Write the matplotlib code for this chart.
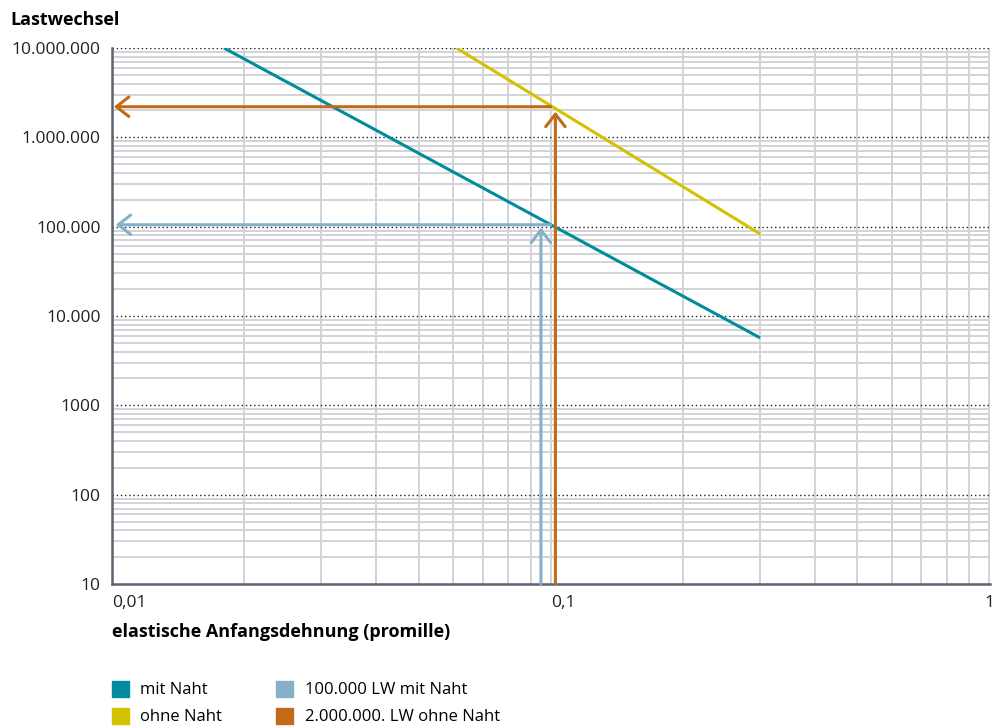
import matplotlib.pyplot as plt
from matplotlib.patches import Patch
from matplotlib.ticker import FixedLocator, LogLocator, NullFormatter

plt.rcParams["font.family"] = ["Open Sans", "DejaVu Sans"]

# S-N lines (strain in promille, load cycles)
mit_x = [0.018, 0.30]
mit_y = [10_000_000, 5_700]
ohne_x = [0.061, 0.30]
ohne_y = [10_000_000, 83_000]

# reading arrows
blau_x = 0.095
blau_y = 105_000
orange_x = 0.1025
orange_y = 2_200_000

y_ticks = [10, 100, 1000, 10_000, 100_000, 1_000_000, 10_000_000]
y_labels = ["10", "100", "1000", "10.000", "100.000", "1.000.000", "10.000.000"]
x_ticks = [0.01, 0.1, 1]
x_labels = ["0,01", "0,1", "1"]

c_mit = "#008c9e"
c_ohne = "#d4c100"
c_blau = "#85b0c8"
c_orange = "#c26a17"
c_grid = "#d3d3d7"
c_axis = "#5b6470"

fig = plt.figure(figsize=(9.97, 7.27), dpi=100)
ax = fig.add_axes([0.1123, 0.1967, 0.8807, 0.7373])
ax.set_xscale("log")
ax.set_yscale("log")
ax.set_xlim(0.01, 1.003)
ax.set_ylim(10, 10_000_000)

ax.xaxis.set_minor_locator(LogLocator(base=10, subs=range(2, 10)))
ax.yaxis.set_minor_locator(LogLocator(base=10, subs=range(2, 10)))
ax.xaxis.set_minor_formatter(NullFormatter())
ax.yaxis.set_minor_formatter(NullFormatter())
ax.xaxis.set_major_locator(FixedLocator(x_ticks))
ax.yaxis.set_major_locator(FixedLocator(y_ticks))
ax.set_xticklabels(x_labels)
ax.set_yticklabels(y_labels)

ax.grid(which="minor", color=c_grid, linewidth=1.4)
ax.grid(which="major", axis="x", color=c_grid, linewidth=1.4)
ax.grid(which="major", axis="y", color="#222222", linestyle=(0, (1, 2)), linewidth=1)
ax.set_axisbelow(True)

ax.tick_params(which="both", length=0, labelsize=12.5, colors="#222222", pad=8)
ax.tick_params(axis="x", pad=8)
for lbl, ha in zip(ax.get_xticklabels(), ["left", "left", "center"]):
    lbl.set_ha(ha)

for s in ["top", "right"]:
    ax.spines[s].set_visible(False)
for s in ["left", "bottom"]:
    ax.spines[s].set_color(c_axis)
    ax.spines[s].set_linewidth(1.8)

ax.plot(mit_x, mit_y, color=c_mit, linewidth=2.2, solid_capstyle="butt")
ax.plot(ohne_x, ohne_y, color=c_ohne, linewidth=2.2, solid_capstyle="butt")

arrow = dict(arrowstyle="->,head_length=0.9,head_width=0.7", linewidth=2.2, shrinkA=0, shrinkB=0)
ax.annotate("", xy=(blau_x, blau_y * 0.93), xytext=(blau_x, 10),
            arrowprops=dict(arrow, color=c_blau))
ax.annotate("", xy=(0.0102, blau_y), xytext=(0.1, blau_y),
            arrowprops=dict(arrow, color=c_blau))
ax.annotate("", xy=(orange_x, orange_y * 0.88), xytext=(orange_x, 10),
            arrowprops=dict(arrow, color=c_orange))
ax.annotate("", xy=(0.0101, orange_y), xytext=(0.1, orange_y),
            arrowprops=dict(arrow, color=c_orange))

fig.text(0.010, 0.985, "Lastwechsel", fontsize=13, fontweight="bold", va="top", ha="left")
fig.text(0.1123, 0.131, "elastische Anfangsdehnung (promille)", fontsize=13,
         fontweight="bold", va="center", ha="left")

handles = [
    Patch(color=c_mit, label="mit Naht"),
    Patch(color=c_ohne, label="ohne Naht"),
    Patch(color=c_blau, label="100.000 LW mit Naht"),
    Patch(color=c_orange, label="2.000.000. LW ohne Naht"),
]
fig.legend(handles=handles, ncol=2, loc="upper left", bbox_to_anchor=(0.104, 0.075),
           frameon=False, fontsize=12, handlelength=1.0, handleheight=1.1,
           handletextpad=0.7, columnspacing=3.25, labelspacing=0.55, borderpad=0)

fig.savefig("out.png", dpi=100)
